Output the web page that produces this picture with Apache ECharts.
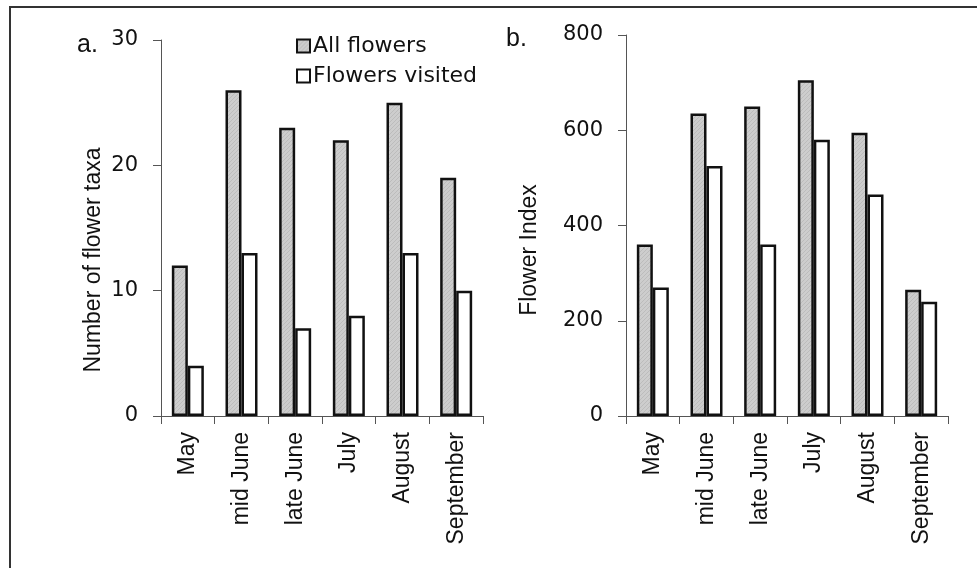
<!DOCTYPE html>
<html>
<head>
<meta charset="utf-8">
<script src="https://cdn.jsdelivr.net/npm/echarts@6/dist/echarts.min.js"></script>
<style>
  html, body { margin: 0; padding: 0; background: #fff; }
  #chart { width: 977px; height: 568px; }
</style>
</head>
<body>
<div id="chart"></div>
<script>
// Sampling periods shared by both panels
const periods = ['May', 'mid June', 'late June', 'July', 'August', 'September'];

// Panel a: number of flower taxa
const taxaAll = [12, 26, 23, 22, 25, 19];
const taxaVisited = [4, 13, 7, 8, 13, 10];

// Panel b: flower index
const indexAll = [360, 635, 650, 705, 595, 265];
const indexVisited = [270, 525, 360, 580, 465, 240];

// Y-axis ranges
const taxaAxis = { min: 0, max: 30, interval: 10 };
const indexAxis = { min: 0, max: 800, interval: 200 };

// Fine diagonal hatching for the grey bars
function hatchPattern() {
  const c = document.createElement('canvas');
  c.width = 4; c.height = 4;
  const g = c.getContext('2d');
  g.fillStyle = '#cdcdcd';
  g.fillRect(0, 0, 4, 4);
  g.strokeStyle = '#bcbcbc';
  g.lineWidth = 1;
  g.beginPath();
  g.moveTo(0, 4); g.lineTo(4, 0);
  g.stroke();
  return { image: c, repeat: 'repeat' };
}
const greyFill = hatchPattern();

const textColor = '#111';
const tickFont = { fontFamily: 'DejaVu Sans', fontSize: 21, color: textColor };
const catFont = { fontFamily: 'Liberation Sans', fontSize: 23, color: textColor };
const axisLineStyle = { color: '#555', width: 1 };

function yAxis(gridIndex, range) {
  return {
    type: 'value', gridIndex,
    min: range.min, max: range.max, interval: range.interval,
    axisLine: { show: true, lineStyle: axisLineStyle },
    axisTick: { show: true, length: 8, lineStyle: axisLineStyle },
    splitLine: { show: false },
    axisLabel: Object.assign({ margin: 23 }, tickFont)
  };
}
function xAxis(gridIndex) {
  return {
    type: 'category', gridIndex, data: periods,
    axisLine: { show: true, lineStyle: axisLineStyle },
    axisTick: { show: true, length: 8, alignWithLabel: false, lineStyle: axisLineStyle },
    axisLabel: Object.assign({ rotate: 90, margin: 16, interval: 0 }, catFont)
  };
}
function bars(name, data, axisIdx, fill) {
  return {
    type: 'bar', name, data,
    xAxisIndex: axisIdx, yAxisIndex: axisIdx,
    barWidth: 16, barGap: '0%',
    itemStyle: { color: fill, borderColor: '#111', borderWidth: 2.5 },
    emphasis: { disabled: true }
  };
}

const chart = echarts.init(document.getElementById('chart'), null, { renderer: 'canvas' });
chart.setOption({
  animation: false,
  backgroundColor: '#fff',
  grid: [
    { left: 161, top: 40, width: 322, bottom: 152 },
    { left: 626, top: 35, width: 322, bottom: 152 }
  ],
  xAxis: [xAxis(0), xAxis(1)],
  yAxis: [yAxis(0, taxaAxis), yAxis(1, indexAxis)],
  legend: {
    orient: 'vertical', left: 291, top: 30,
    icon: 'rect', itemWidth: 13, itemHeight: 13, itemGap: 8,
    textStyle: { fontFamily: 'DejaVu Sans', fontSize: 22, color: textColor, padding: [0, 0, 0, -2] },
    data: ['All flowers', 'Flowers visited'],
    selectedMode: false
  },
  series: [
    bars('All flowers', taxaAll, 0, greyFill),
    bars('Flowers visited', taxaVisited, 0, '#fff'),
    bars('All flowers', indexAll, 1, greyFill),
    bars('Flowers visited', indexVisited, 1, '#fff')
  ],
  graphic: [
    { type: 'rect', shape: { x: 10, y: 7, width: 1000, height: 600 },
      style: { fill: null, stroke: '#333', lineWidth: 2 }, silent: true },
    { type: 'text', x: 77, y: 58,
      style: { text: 'a.', font: '25px "Liberation Sans"', fill: textColor, textVerticalAlign: 'bottom' } },
    { type: 'text', x: 506, y: 52,
      style: { text: 'b.', font: '25px "Liberation Sans"', fill: textColor, textVerticalAlign: 'bottom' } },
    { type: 'text', x: 94, y: 260, rotation: Math.PI / 2,
      style: { text: 'Number of flower taxa', font: '23px "Liberation Sans"', fill: textColor,
               textAlign: 'center', textVerticalAlign: 'middle' } },
    { type: 'text', x: 530, y: 250, rotation: Math.PI / 2,
      style: { text: 'Flower Index', font: '23px "Liberation Sans"', fill: textColor,
               textAlign: 'center', textVerticalAlign: 'middle' } }
  ]
});
</script>
</body>
</html>
